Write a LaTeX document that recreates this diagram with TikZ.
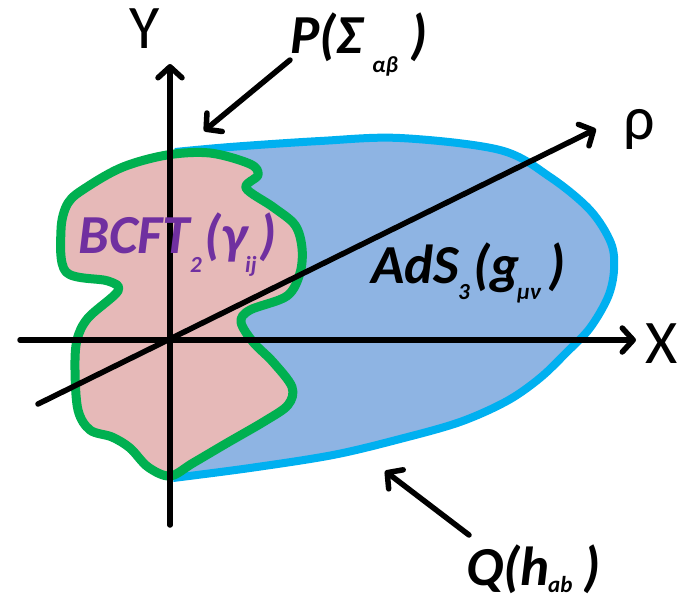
\documentclass[tikz,border=0pt]{standalone}
\usepackage{fontspec}
\setmainfont{Carlito}
\usetikzlibrary{arrows.meta}
\definecolor{pinkfill}{HTML}{E6B9B8}
\definecolor{greenline}{HTML}{00B050}
\definecolor{bluefill}{HTML}{8EB4E3}
\definecolor{cyanline}{HTML}{00B0F0}
\definecolor{purpletext}{HTML}{7030A0}
\begin{document}
\begin{tikzpicture}[x=1pt,y=-1pt,
  axis/.style={line width=5.5pt, line cap=round, -{Straight Barb[length=11pt,width=24pt,line cap=round,line join=round]}},
  lbl/.style={anchor=base west, inner sep=0pt, font=\fontsize{55}{55}\selectfont\bfseries\itshape},
  sub/.style={anchor=base west, inner sep=0pt, font=\fontsize{23}{23}\selectfont\bfseries\itshape},
  axl/.style={anchor=base west, inner sep=0pt, font=\fontsize{62}{62}\selectfont}]
\useasboundingbox (0,0) rectangle (681,598);
% bulk AdS region
\fill[bluefill] plot[smooth, tension=0.55] coordinates {(175,152) (230,147) (320,141) (400,138) (500,150) (550,177) (590,210) (611,243) (614,270) (608,297) (590,328) (567,352) (540,378) (507,401) (460,422) (400,439) (333,455) (250,468) (173,478)} -- cycle;
\draw[cyanline, line width=8pt] plot[smooth, tension=0.55] coordinates {(175,152) (230,147) (320,141) (400,138) (500,150) (550,177) (590,210) (611,243) (614,270) (608,297) (590,328) (567,352) (540,378) (507,401) (460,422) (400,439) (333,455) (250,468) (173,478)};
% BCFT region
\draw[greenline, fill=pinkfill, line width=9pt, line join=round] plot[smooth cycle, tension=0.55] coordinates {(167,155) (210,153) (250,164) (258,175) (246,188) (273,207) (295,225) (302,248) (300,273) (287,296) (250,310) (241,322) (253,342) (273,362) (292,387) (288,405) (265,421) (227,443) (193,463) (170,476) (148,467) (130,448) (112,437) (90,430) (78,410) (75,370) (77,340) (88,318) (118,291) (108,281) (66,272) (61,230) (68,203) (87,187) (123,167)};
% axes
\coordinate (yb) at (170,525);
\coordinate (yt) at (170,64);
\coordinate (xl) at (20,340);
\coordinate (xr) at (636,340);
\coordinate (rl) at (38,404);
\coordinate (rr) at (596,129);
\draw[axis] (yb) -- (yt);
\draw[axis] (xl) -- (xr);
\draw[axis] (rl) -- (rr);
\node[axl] (ylab) at (129,48) {Y};
\node[axl] (xlab) at (645,363) {X};
\node[axl] (rlab) at (623,139) {ρ};
% P label and arrow
\coordinate (pa) at (290,60);
\coordinate (pb) at (204,131);
\draw[axis] (pa) -- (pb);
\node[lbl] (p1) at (290,53) {P(Σ};
\node[sub] (p2) at (372,72) {αβ};
\node[lbl] (p3) at (410,53) {)};
% Q label and arrow
\coordinate (qa) at (469,535);
\coordinate (qb) at (385,471);
\draw[axis] (qa) -- (qb);
\node[lbl] (q1) at (466,585) {Q(h};
\node[sub] (q2) at (548,592) {ab};
\node[lbl] (q3) at (583,585) {)};
% BCFT label
\node[lbl, text=purpletext] (b1) at (78,253) {BCFT};
\node[sub, text=purpletext] (b2) at (190,272) {2};
\node[lbl, text=purpletext] (b3) at (204,253) {(γ};
\node[sub, text=purpletext] (b4) at (245,272) {ij};
\node[lbl, text=purpletext] (b5) at (259,253) {)};
% AdS label
\node[lbl] (a1) at (371,283) {AdS};
\node[sub] (a2) at (458,299) {3};
\node[lbl] (a3) at (473,283) {(g};
\node[sub] (a4) at (517,299) {μν};
\node[lbl] (a5) at (548,283) {)};
\end{tikzpicture}
\end{document}
